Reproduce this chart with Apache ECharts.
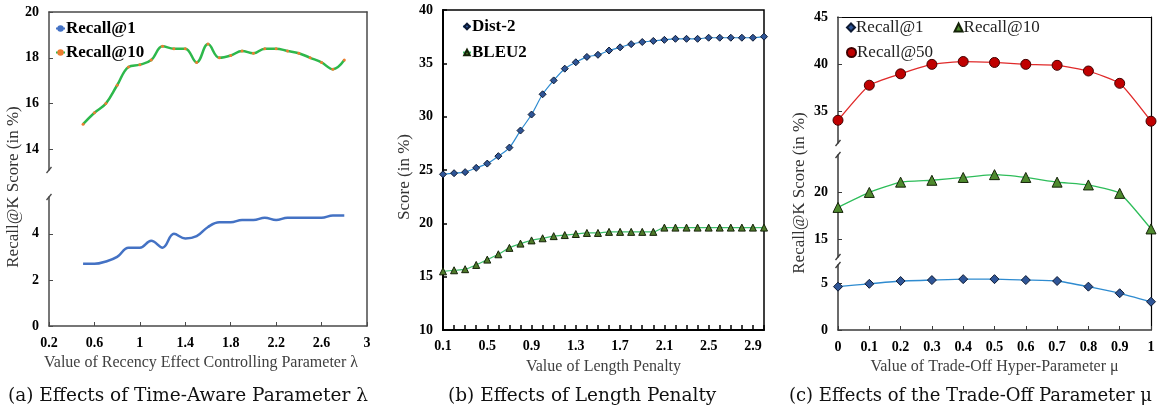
<!DOCTYPE html>
<html>
<head>
<meta charset="utf-8">
<title>Parameter effects</title>
<script src="https://cdn.jsdelivr.net/npm/echarts@6.0.0/dist/echarts.min.js"></script>
<style>
  html, body { margin: 0; padding: 0; background: #fff; }
  .row { display: flex; width: 1163px; height: 413px; }
  .panel { height: 413px; }
  #chartA { width: 388px; }
  #chartB { width: 388px; }
  #chartC { width: 387px; }
</style>
</head>
<body>
<div class="row">
  <div id="chartA" class="panel"></div>
  <div id="chartB" class="panel"></div>
  <div id="chartC" class="panel"></div>
</div>
<script>
// (a) recency parameter lambda
const lambdaValues = [0.5, 0.6, 0.7, 0.8, 0.9, 1.0, 1.1, 1.2, 1.3, 1.4, 1.5, 1.6, 1.7, 1.8, 1.9, 2.0, 2.1, 2.2, 2.3, 2.4, 2.5, 2.6, 2.7, 2.8]
const lambdaRecall1 = [2.7, 2.7, 2.8, 3.0, 3.4, 3.4, 3.7, 3.4, 4.0, 3.8, 3.9, 4.3, 4.5, 4.5, 4.6, 4.6, 4.7, 4.6, 4.7, 4.7, 4.7, 4.7, 4.8, 4.8]
const lambdaRecall10 = [15.1, 15.6, 16.0, 16.8, 17.6, 17.7, 17.9, 18.5, 18.4, 18.4, 17.8, 18.6, 18.0, 18.1, 18.3, 18.2, 18.4, 18.4, 18.3, 18.2, 18.0, 17.8, 17.5, 17.9]
const lambdaTicks = [0.2, 0.6, 1, 1.4, 1.8, 2.2, 2.6, 3]
const lambdaUpperTicks = [14, 16, 18, 20]
const lambdaLowerTicks = [0, 2, 4]

// (b) length penalty
const lengthPenalty = ['0.1', '0.2', '0.3', '0.4', '0.5', '0.6', '0.7', '0.8', '0.9', '1.0',
  '1.1', '1.2', '1.3', '1.4', '1.5', '1.6', '1.7', '1.8', '1.9', '2.0',
  '2.1', '2.2', '2.3', '2.4', '2.5', '2.6', '2.7', '2.8', '2.9', '3.0']
const dist2 = [24.6, 24.7, 24.8, 25.2, 25.6, 26.3, 27.1, 28.7, 30.2, 32.1,
  33.4, 34.5, 35.1, 35.6, 35.8, 36.2, 36.5, 36.8, 37.0, 37.1,
  37.2, 37.3, 37.3, 37.3, 37.4, 37.4, 37.4, 37.4, 37.4, 37.5]
const bleu2 = [15.5, 15.6, 15.7, 16.1, 16.6, 17.1, 17.7, 18.1, 18.4, 18.6,
  18.8, 18.9, 19.0, 19.1, 19.1, 19.2, 19.2, 19.2, 19.2, 19.2,
  19.6, 19.6, 19.6, 19.6, 19.6, 19.6, 19.6, 19.6, 19.6, 19.6]

// (c) trade-off parameter mu
const muValues = ['0', '0.1', '0.2', '0.3', '0.4', '0.5', '0.6', '0.7', '0.8', '0.9', '1']
const muRecall1 = [4.6, 4.9, 5.2, 5.3, 5.4, 5.4, 5.3, 5.2, 4.6, 3.9, 3.0]
const muRecall10 = [18.4, 20.0, 21.1, 21.3, 21.6, 21.9, 21.6, 21.1, 20.8, 19.9, 16.1]
const muRecall50 = [34.1, 37.8, 39.0, 40.0, 40.3, 40.2, 40.0, 39.9, 39.3, 38.0, 34.0]
const muTopTicks = [35, 40, 45]
const muMidTicks = [15, 20]
const muBottomTicks = [0, 5]

const SERIF = "'Liberation Serif', 'Times New Roman', serif"
const CAPTION_FONT = "'DejaVu Serif', serif"

function tickLabel(extra) {
  return Object.assign({ fontFamily: SERIF, fontWeight: 'bold', fontSize: 14, color: '#000', margin: 10 }, extra || {})
}

function hiddenAxis(extra) {
  return Object.assign({
    axisLine: { show: false }, axisTick: { show: false },
    axisLabel: { show: false }, splitLine: { show: false },
  }, extra)
}

// top / right border of a broken panel, drawn as a bare axis line
function frameAxis(extra, color, width) {
  return Object.assign({
    axisLine: { show: true, onZero: false, lineStyle: { color: color, width: width } },
    axisTick: { show: false }, axisLabel: { show: false }, splitLine: { show: false },
  }, extra)
}

function yLabel(text, x, y) {
  return {
    type: 'text', x: x, y: y, rotation: Math.PI / 2,
    style: { text: text, font: '17px ' + SERIF, fill: '#333', textAlign: 'center', textVerticalAlign: 'middle' },
  }
}

function breakMark(x, y, color) {
  return { type: 'line', shape: { x1: x - 2.5, y1: y + 3, x2: x + 2.5, y2: y - 3 }, style: { stroke: color, lineWidth: 1.3 } }
}

function caption(text, left, size) {
  return {
    text: text, left: left, top: 382,
    textStyle: { fontFamily: CAPTION_FONT, fontWeight: 'normal', fontSize: size || 18.5, color: '#111' },
  }
}

function xName(text, shift) {
  return {
    name: text, nameLocation: 'middle', nameGap: 29,
    nameTextStyle: { fontFamily: SERIF, fontSize: 16, color: '#404040', padding: [0, shift || 0, 0, 0] },
  }
}

// ---- panel (a)
const axisA = '#4a4a4a'
const lambdaPairs1 = lambdaValues.map((x, i) => [x, lambdaRecall1[i]])
const lambdaPairs10 = lambdaValues.map((x, i) => [x, lambdaRecall10[i]])

const optionA = {
  animation: false,
  title: [caption('(a) Effects of Time-Aware Parameter λ', 3)],
  legend: {
    orient: 'vertical', left: 55, top: 20, itemWidth: 9, itemHeight: 8, itemGap: 7, padding: 0,
    data: ['Recall@1', 'Recall@10'],
    textStyle: { fontFamily: SERIF, fontWeight: 'bold', fontSize: 17, color: '#000', padding: [0, 0, 0, -4] },
  },
  grid: [
    { left: 49, top: 12, width: 318, height: 314 },
    { left: 49, top: 12, width: 318, height: 158 },
    { left: 49, top: 197, width: 318, height: 129 },
  ],
  xAxis: [
    frameAxis({ gridIndex: 0, type: 'value', position: 'top', min: 0, max: 1 }, axisA, 1.5),
    hiddenAxis({ gridIndex: 1, type: 'value', min: 0.2, max: 3 }),
    Object.assign({
      gridIndex: 2, type: 'value', min: 0.2, max: 3,
      axisLine: { show: true, lineStyle: { color: axisA, width: 1.5 } },
      axisTick: { show: true, inside: true, length: 4, customValues: lambdaTicks, lineStyle: { color: axisA } },
      axisLabel: tickLabel({ customValues: lambdaTicks, margin: 10 }),
      splitLine: { show: false },
    }, xName('Value of Recency Effect Controlling Parameter λ', 14)),
  ],
  yAxis: [
    frameAxis({ gridIndex: 0, type: 'value', position: 'right', min: 0, max: 1 }, axisA, 1.5),
    {
      gridIndex: 1, type: 'value', min: 13.1, max: 20,
      axisLine: { show: true, lineStyle: { color: axisA, width: 1.5 } },
      axisTick: { show: true, inside: true, length: 4, customValues: lambdaUpperTicks, lineStyle: { color: axisA } },
      axisLabel: tickLabel({ customValues: lambdaUpperTicks }),
      splitLine: { show: false },
    },
    {
      gridIndex: 2, type: 'value', min: 0, max: 5.6,
      axisLine: { show: true, lineStyle: { color: axisA, width: 1.5 } },
      axisTick: { show: true, inside: true, length: 4, customValues: lambdaLowerTicks, lineStyle: { color: axisA } },
      axisLabel: tickLabel({ customValues: lambdaLowerTicks }),
      splitLine: { show: false },
    },
  ],
  series: [
    {
      name: 'Recall@1', type: 'line', xAxisIndex: 2, yAxisIndex: 2, data: lambdaPairs1,
      smooth: 0.4, symbol: 'none', lineStyle: { color: '#4472c4', width: 2.5 }, itemStyle: { color: '#4472c4' },
    },
    {
      name: 'Recall@10', type: 'line', xAxisIndex: 1, yAxisIndex: 1, data: lambdaPairs10,
      smooth: 0.4, symbol: 'circle', symbolSize: 3,
      lineStyle: { color: '#2db84b', width: 2.5 }, itemStyle: { color: '#ed7d31' },
    },
  ],
  graphic: [
    yLabel('Recall@K Score (in %)', 14, 187),
    breakMark(49, 170, axisA),
    breakMark(49, 197, axisA),
  ],
}

// ---- panel (b)
const optionB = {
  animation: false,
  title: [caption('(b) Effects of Length Penalty', 55)],
  legend: {
    orient: 'vertical', left: 74, top: 18, itemWidth: 8, itemHeight: 7, itemGap: 9, padding: 0,
    data: ['Dist-2', 'BLEU2'],
    textStyle: { fontFamily: SERIF, fontWeight: 'bold', fontSize: 17, color: '#000', padding: [0, 0, 0, -4] },
  },
  grid: { left: 55, top: 10, width: 321, height: 320, show: true, borderColor: '#000', borderWidth: 1.5 },
  xAxis: Object.assign({
    type: 'category', data: lengthPenalty, boundaryGap: false,
    axisLine: { show: true, lineStyle: { color: '#000', width: 2 } },
    axisTick: { show: true, inside: true, length: 5, interval: 0, lineStyle: { color: '#000', width: 1.5 } },
    axisLabel: tickLabel({ interval: 3, margin: 9 }),
    splitLine: { show: false },
  }, xName('Value of Length Penalty')),
  yAxis: {
    type: 'value', min: 10, max: 40, interval: 5,
    axisLine: { show: true, lineStyle: { color: '#000', width: 2 } },
    axisTick: { show: true, inside: true, length: 4, lineStyle: { color: '#000', width: 1.5 } },
    axisLabel: tickLabel(),
    splitLine: { show: false },
  },
  series: [
    {
      name: 'Dist-2', type: 'line', data: dist2, smooth: 0.3,
      symbol: 'diamond', symbolSize: 7,
      lineStyle: { color: '#2e8bd0', width: 1.2 },
      itemStyle: { color: '#2f5597', borderColor: '#0d1a33', borderWidth: 1 },
    },
    {
      name: 'BLEU2', type: 'line', data: bleu2, smooth: 0.3,
      symbol: 'triangle', symbolSize: 7,
      lineStyle: { color: '#3cbf6a', width: 1.2 },
      itemStyle: { color: '#4e7a2a', borderColor: '#142208', borderWidth: 1 },
    },
  ],
  graphic: [yLabel('Score (in %)', 17, 177)],
}

// ---- panel (c)
const axisC = '#3a3a3a'
const legendTextC = { fontFamily: SERIF, fontSize: 17, color: '#222', padding: [0, 0, 0, -4] }

const optionC = {
  animation: false,
  title: [caption('(c) Effects of the Trade-Off Parameter μ', 8, 18)],
  legend: [
    {
      left: 70, top: 19, itemWidth: 8, itemHeight: 8, itemGap: 30, padding: 0,
      data: [{ name: 'Recall@1', icon: 'diamond' }, { name: 'Recall@10', icon: 'triangle' }],
      textStyle: legendTextC,
    },
    {
      left: 70, top: 44, itemWidth: 9, itemHeight: 9, padding: 0,
      data: [{ name: 'Recall@50', icon: 'circle' }],
      textStyle: legendTextC,
    },
  ],
  grid: [
    { left: 62, top: 17, width: 313, height: 313 },
    { left: 62, top: 17, width: 313, height: 126 },
    { left: 62, top: 155, width: 313, height: 102 },
    { left: 62, top: 265, width: 313, height: 65 },
  ],
  xAxis: [
    frameAxis({ gridIndex: 0, type: 'value', position: 'top', min: 0, max: 1 }, '#000', 1.2),
    hiddenAxis({ gridIndex: 1, type: 'category', data: muValues, boundaryGap: false }),
    hiddenAxis({ gridIndex: 2, type: 'category', data: muValues, boundaryGap: false }),
    Object.assign({
      gridIndex: 3, type: 'category', data: muValues, boundaryGap: false,
      axisLine: { show: true, lineStyle: { color: axisC, width: 1.5 } },
      axisTick: { show: true, inside: true, length: 4, interval: 0, lineStyle: { color: axisC } },
      axisLabel: tickLabel({ interval: 0, margin: 10 }),
      splitLine: { show: false },
    }, xName('Value of Trade-Off Hyper-Parameter μ')),
  ],
  yAxis: [
    frameAxis({ gridIndex: 0, type: 'value', position: 'right', min: 0, max: 1 }, '#000', 1.2),
    {
      gridIndex: 1, type: 'value', min: 31.7, max: 45,
      axisLine: { show: true, lineStyle: { color: axisC, width: 1.5 } },
      axisTick: { show: true, inside: true, length: 4, customValues: muTopTicks, lineStyle: { color: axisC } },
      axisLabel: tickLabel({ customValues: muTopTicks }),
      splitLine: { show: false },
    },
    {
      gridIndex: 2, type: 'value', min: 13.1, max: 24,
      axisLine: { show: true, lineStyle: { color: axisC, width: 1.5 } },
      axisTick: { show: true, inside: true, length: 4, customValues: muMidTicks, lineStyle: { color: axisC } },
      axisLabel: tickLabel({ customValues: muMidTicks }),
      splitLine: { show: false },
    },
    {
      gridIndex: 3, type: 'value', min: 0, max: 6.9,
      axisLine: { show: true, lineStyle: { color: axisC, width: 1.5 } },
      axisTick: { show: true, inside: true, length: 4, customValues: muBottomTicks, lineStyle: { color: axisC } },
      axisLabel: tickLabel({ customValues: muBottomTicks }),
      splitLine: { show: false },
    },
  ],
  series: [
    {
      name: 'Recall@1', type: 'line', xAxisIndex: 3, yAxisIndex: 3, data: muRecall1, smooth: 0.15,
      symbol: 'diamond', symbolSize: 9,
      lineStyle: { color: '#2e8bd0', width: 1.3 },
      itemStyle: { color: '#2f5597', borderColor: '#0d1a33', borderWidth: 1 },
    },
    {
      name: 'Recall@10', type: 'line', xAxisIndex: 2, yAxisIndex: 2, data: muRecall10, smooth: 0.15,
      symbol: 'triangle', symbolSize: 10,
      lineStyle: { color: '#2ebd5a', width: 1.3 },
      itemStyle: { color: '#4e8a2e', borderColor: '#142208', borderWidth: 1 },
    },
    {
      name: 'Recall@50', type: 'line', xAxisIndex: 1, yAxisIndex: 1, data: muRecall50, smooth: 0.15,
      symbol: 'circle', symbolSize: 10,
      lineStyle: { color: '#e02a2a', width: 1.3 },
      itemStyle: { color: '#c00000', borderColor: '#400000', borderWidth: 1 },
    },
  ],
  graphic: [
    yLabel('Recall@K Score (in %)', 24, 193),
    breakMark(62, 143, axisC),
    breakMark(62, 155, axisC),
    breakMark(62, 257, axisC),
    breakMark(62, 265, axisC),
  ],
}

const charts = [
  echarts.init(document.getElementById('chartA')),
  echarts.init(document.getElementById('chartB')),
  echarts.init(document.getElementById('chartC')),
]
charts[0].setOption(optionA)
charts[1].setOption(optionB)
charts[2].setOption(optionC)
window.addEventListener('resize', () => charts.forEach((c) => c.resize()))
</script>
</body>
</html>
